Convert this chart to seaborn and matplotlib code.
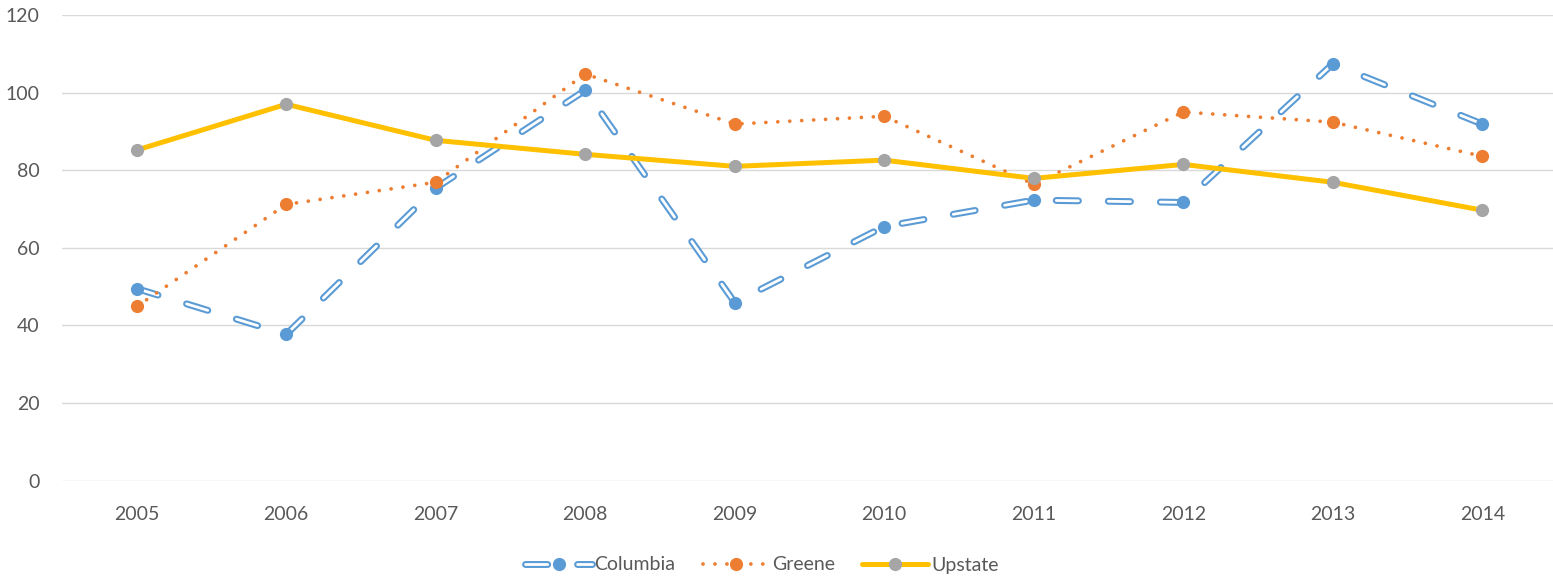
import matplotlib
matplotlib.use("Agg")
import matplotlib.pyplot as plt
import seaborn as sns
from matplotlib.lines import Line2D
from matplotlib.legend_handler import HandlerTuple

# ---- data ----
years = [2005, 2006, 2007, 2008, 2009, 2010, 2011, 2012, 2013, 2014]
columbia = [49.5, 37.7, 75.4, 100.6, 45.9, 65.5, 72.3, 71.7, 107.4, 91.9]
greene = [44.9, 71.2, 76.9, 104.8, 91.9, 93.9, 76.4, 95.0, 92.4, 83.6]
upstate = [85.2, 97.0, 87.7, 84.1, 81.0, 82.6, 77.9, 81.5, 76.9, 69.7]
y_ticks = [0, 20, 40, 60, 80, 100, 120]
series_names = ["Columbia", "Greene", "Upstate"]

# ---- style ----
sns.set_theme(style="white")
plt.rcParams["font.family"] = ["Lato", "DejaVu Sans"]
plt.rcParams["lines.scale_dashes"] = False

BLUE = "#5B9BD5"
ORANGE = "#ED7D31"
YELLOW = "#FFC000"
GRAY = "#A5A5A5"
TEXT = "#595959"
GRID = "#D9D9D9"

W, H = 1553, 580
fig = plt.figure(figsize=(W / 100, H / 100), dpi=100)
ax = fig.add_axes([62 / W, 1 - 480.7 / H, (1557 - 62) / W, (480.7 - 15) / H])

col_dash = (0, (16.0, 21.5))
grn_dot = (0, (0.01, 8.6))
ms = 9.5
LW_OUT, LW_IN = 5.0, 2.0

# Columbia: outlined long dash
sns.lineplot(x=years, y=columbia, ax=ax, color=BLUE, lw=LW_OUT, linestyle=col_dash,
             dash_capstyle="round", zorder=3)
sns.lineplot(x=years, y=columbia, ax=ax, color="white", lw=LW_IN, linestyle=col_dash,
             dash_capstyle="round", zorder=3.1)
ax.plot(years, columbia, ls="none", marker="o", ms=ms, mew=0, color=BLUE, zorder=3.2)

# Greene: round dots
sns.lineplot(x=years, y=greene, ax=ax, color=ORANGE, lw=2.7, linestyle=grn_dot,
             dash_capstyle="round", zorder=4)
ax.plot(years, greene, ls="none", marker="o", ms=ms, mew=0, color=ORANGE, zorder=4.2)

# Upstate: solid
sns.lineplot(x=years, y=upstate, ax=ax, color=YELLOW, lw=3.6, solid_capstyle="round", zorder=5)
ax.plot(years, upstate, ls="none", marker="o", ms=ms, mew=0, color=GRAY, zorder=5.2)

# ---- axes ----
ax.set_xlim(2004.5, 2014.5)
ax.set_ylim(0, 120)
ax.set_xticks(years)
ax.set_xticklabels([str(y) for y in years])
ax.set_yticks(y_ticks)
ax.set_yticklabels([str(t) for t in y_ticks])
ax.yaxis.grid(True, color=GRID, lw=1.0, zorder=0)
ax.xaxis.grid(False)
for s in ax.spines.values():
    s.set_visible(False)
ax.tick_params(axis="both", length=0, labelsize=14, labelcolor=TEXT)
ax.tick_params(axis="y", pad=16)
ax.tick_params(axis="x", pad=18)
ax.set_xlabel("")
ax.set_ylabel("")
if ax.get_legend():
    ax.get_legend().remove()

# ---- legend ----
h_col = (
    Line2D([], [], color=BLUE, lw=LW_OUT, linestyle=col_dash, dash_capstyle="round"),
    Line2D([], [], color="white", lw=LW_IN, linestyle=col_dash, dash_capstyle="round"),
    Line2D([], [], color=BLUE, ls="none", marker="o", ms=ms, mew=0),
)
h_grn = Line2D([], [], color=ORANGE, lw=2.7, linestyle=grn_dot, dash_capstyle="round",
               marker="o", ms=ms, mew=0, mfc=ORANGE)
h_up = Line2D([], [], color=YELLOW, lw=3.6, marker="o", ms=ms, mew=0, mfc=GRAY)

leg = fig.legend([h_col, h_grn, h_up], series_names, loc="center",
                 bbox_to_anchor=(762 / W, 1 - 565 / H), ncol=3, frameon=False,
                 fontsize=14, handlelength=3.4, handletextpad=0.15, columnspacing=1.4,
                 handler_map={tuple: HandlerTuple(ndivide=1, pad=0)})
for t in leg.get_texts():
    t.set_color(TEXT)

fig.savefig("out.png", dpi=100)
